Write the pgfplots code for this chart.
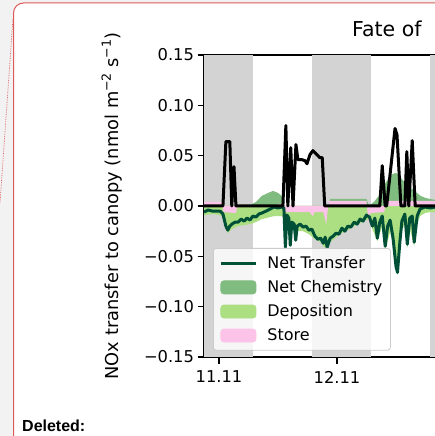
\documentclass[border=0pt]{standalone}
\usepackage{pgfplots}
\pgfplotsset{compat=1.18}
\usepackage{fontspec}
\setmainfont{DejaVu Sans}
\newfontfamily\libsans{Liberation Sans}
\definecolor{ntcol}{HTML}{005037}
\definecolor{chemcol}{HTML}{80BB80}
\definecolor{depcol}{HTML}{ABDF82}
\definecolor{storecol}{HTML}{FCC3E8}
\definecolor{bandcol}{HTML}{D3D3D3}
\definecolor{framecol}{HTML}{DC5A5A}
\definecolor{outbg}{HTML}{F2F2F2}
\newcommand{\tfont}{\fontsize{16.3}{19.5}\selectfont}
\newcommand{\lfont}{\fontsize{17.8}{21}\selectfont}
\newcommand{\supr}[1]{\raisebox{0.45em}{\fontsize{12.6}{13}\selectfont #1}}

\pgfplotstableread{
h v
-3.05 0
0.8 0
1.4 0.064
2.2 0.064
2.6 0
3.05 0.039
3.45 0
13.0 0
13.6 0.080
14.0 0
14.6 0.058
15.05 0
15.65 0.061
16.05 0.046
16.9 0.046
17.5 0.045
17.9 0.042
18.5 0.051
19.1 0.055
19.9 0.051
20.5 0.048
21.0 0.048
21.5 0
32.7 0
33.2 0.040
33.8 0
34.1 0
35.8 0.077
36.2 0.071
37.0 0
37.8 0
38.2 0.054
38.6 0
39.3 0.065
39.9 0
60 0
}\blackline

\pgfplotstableread{
h v
-3.05 -0.006
-2.2 -0.004
-1.4 -0.005
-0.6 -0.005
0.2 -0.005
0.8 -0.008
1.4 -0.020
1.8 -0.024
2.2 -0.020
2.6 -0.018
3.3 -0.016
3.9 -0.016
4.5 -0.013
5.1 -0.015
5.7 -0.012
6.3 -0.014
6.9 -0.010
7.5 -0.011
8.1 -0.008
8.7 -0.007
9.6 -0.005
10.4 -0.003
11.2 -0.001
12.0 -0.002
12.8 -0.001
13.2 -0.002
13.5 -0.041
13.8 -0.009
14.2 -0.012
14.5 -0.039
14.8 -0.016
15.3 -0.018
15.6 -0.034
15.9 -0.020
16.5 -0.018
17.1 -0.021
17.7 -0.020
18.3 -0.024
18.9 -0.023
19.5 -0.030
20.1 -0.033
20.7 -0.032
21.2 -0.037
21.6 -0.031
22.0 -0.041
22.6 -0.032
23.2 -0.030
23.8 -0.027
24.4 -0.028
25.0 -0.022
25.6 -0.025
26.2 -0.020
26.8 -0.021
27.5 -0.016
28.1 -0.018
28.7 -0.013
29.3 -0.015
30.0 -0.009
30.6 -0.011
31.2 -0.020
31.7 -0.012
32.2 -0.032
32.7 -0.016
33.2 -0.010
33.8 -0.040
34.3 -0.020
34.8 -0.014
35.4 -0.032
36.0 -0.060
36.3 -0.066
36.8 -0.035
37.2 -0.015
37.8 -0.008
38.3 -0.038
38.8 -0.012
39.3 -0.010
39.7 -0.036
40.3 -0.010
40.9 -0.003
41.9 -0.001
43.0 -0.002
44.0 -0.001
}\nettransfer

\pgfplotstableread{
h v
-3.05 0
-3.05 -0.009
-1.0 -0.008
0.8 -0.010
1.4 -0.022
1.8 -0.027
2.6 -0.023
3.9 -0.020
5.1 -0.019
6.3 -0.018
7.5 -0.016
8.7 -0.013
9.6 -0.012
10.4 -0.011
11.2 -0.010
12.0 -0.010
12.8 -0.010
13.2 -0.012
13.5 -0.040
13.8 -0.018
14.5 -0.036
15.0 -0.022
15.6 -0.033
16.0 -0.025
17.1 -0.025
18.3 -0.028
19.5 -0.033
20.7 -0.036
21.2 -0.040
22.0 -0.043
22.6 -0.036
23.8 -0.031
25.0 -0.027
26.2 -0.024
27.5 -0.020
28.7 -0.017
29.9 -0.014
30.6 -0.014
31.2 -0.023
32.2 -0.035
33.2 -0.020
33.8 -0.044
34.8 -0.026
35.4 -0.036
36.3 -0.069
36.8 -0.040
37.2 -0.024
37.8 -0.018
38.3 -0.042
38.8 -0.022
39.7 -0.040
40.3 -0.018
40.9 -0.010
41.9 -0.007
43.0 -0.006
44.0 -0.006
44.0 0
}\deposition

\pgfplotstableread{
h v
-3.05 0
6.0 0
7.5 0.004
8.7 0.010
10.0 0.013
11.0 0.015
12.0 0.013
12.8 0.010
13.3 0
21.6 0
21.9 -0.050
22.2 0
22.6 0.007
30.0 0.007
30.5 0
31.5 0.004
32.5 0.010
33.2 0.016
34.0 0.024
35.0 0.031
36.0 0.033
37.0 0.028
38.0 0.022
39.0 0.018
40.0 0.014
41.0 0.010
42.0 0.008
44.0 0.006
44.0 0
}\chemistry

\pgfplotstableread{
h v
-3.05 0
-3.05 0.004
0.6 0.004
0.9 -0.006
3.4 -0.007
3.8 0
11.5 0
12.0 0.002
13.0 0.002
13.3 -0.006
18.5 -0.006
19.0 -0.010
19.5 -0.006
21.2 -0.006
21.8 -0.018
22.1 -0.005
22.4 0.005
30.0 0.005
30.4 -0.017
30.8 -0.007
33.6 -0.006
34.0 0.005
44.0 0.005
44.0 0
}\store

\begin{document}
\begin{tikzpicture}
\useasboundingbox (0pt,0pt) rectangle (435pt,436pt);
\clip (0pt,0pt) rectangle (435pt,436pt);
\fill[outbg] (0pt,0pt) rectangle (435pt,436pt);
\filldraw[fill=white, draw=framecol, line width=1pt, rounded corners=10pt] (13.5pt,-15pt) rectangle (480pt,433pt);
\draw[framecol, densely dotted, line width=0.7pt] (0pt,233pt) -- (13pt,418pt);
\node[anchor=base west, inner sep=0pt, font=\libsans\bfseries\fontsize{16}{18}\selectfont] at (22pt,4.5pt) {Deleted:};
\node[anchor=base west, inner sep=0pt, font=\fontsize{20.5}{24}\selectfont] at (352pt,399.3pt) {Fate of};
\begin{axis}[
  scale only axis, width=310pt, height=302pt,
  at={(204pt,79pt)}, anchor=south west,
  xmin=-3.05, xmax=60, ymin=-0.15, ymax=0.15,
  axis line style={black, line width=1.3pt},
  xtick={0,24}, xticklabels={11.11,12.11},
  ytick={-0.15,-0.1,-0.05,0,0.05,0.1,0.15},
  yticklabels={−0.15,−0.10,−0.05,0.00,0.05,0.10,0.15},
  tick pos=left, tick align=outside, major tick length=6.5pt,
  tick style={black, line width=1.3pt},
  ticklabel style={font=\tfont},
  xticklabel style={yshift=-4pt},
  ylabel={NOx transfer to canopy (nmol m\supr{−2} s\supr{−1})},
  every axis y label/.style={at={(axis description cs:-0.297,0.5)}, rotate=90, anchor=center, font=\lfont},
  legend cell align=left,
  legend style={at={(axis description cs:0.029,0.361)}, anchor=north west,
    fill=white, fill opacity=0.8, draw opacity=1, text opacity=1, draw=black!20, line width=0.8pt,
    rounded corners=3pt, font=\fontsize{16}{19}\selectfont,
    inner xsep=6pt, inner ysep=6pt, row sep=6.5pt, column sep=8pt},
]
\addlegendimage{legend image code/.code={\draw[ntcol, line width=3pt, draw opacity=1] (0pt,0pt) -- (35pt,0pt);}}
\addlegendentry{Net Transfer}
\addlegendimage{legend image code/.code={\fill[chemcol, fill opacity=1] (0pt,-6.5pt) rectangle (35pt,6.5pt);}}
\addlegendentry{Net Chemistry}
\addlegendimage{legend image code/.code={\fill[depcol, fill opacity=1] (0pt,-6.5pt) rectangle (35pt,6.5pt);}}
\addlegendentry{Deposition}
\addlegendimage{legend image code/.code={\fill[storecol, fill opacity=1] (0pt,-6.5pt) rectangle (35pt,6.5pt);}}
\addlegendentry{Store}

\addplot[forget plot, fill=bandcol, draw=none] coordinates {(-4,-0.15) (7,-0.15) (7,0.15) (-4,0.15)};
\addplot[forget plot, fill=bandcol, draw=none] coordinates {(19,-0.15) (31,-0.15) (31,0.15) (19,0.15)};
\addplot[forget plot, fill=bandcol, draw=none] coordinates {(43,-0.15) (55,-0.15) (55,0.15) (43,0.15)};

\addplot[forget plot, fill=chemcol, draw=none] table[x=h, y=v] {\chemistry};
\addplot[forget plot, fill=depcol, draw=none] table[x=h, y=v] {\deposition};
\addplot[forget plot, fill=storecol, draw=none] table[x=h, y=v] {\store};
\addplot[forget plot, ntcol, line width=3pt, line join=round] table[x=h, y=v] {\nettransfer};
\addplot[forget plot, black, line width=3pt, line join=round] table[x=h, y=v] {\blackline};
\end{axis}
\end{tikzpicture}
\end{document}
